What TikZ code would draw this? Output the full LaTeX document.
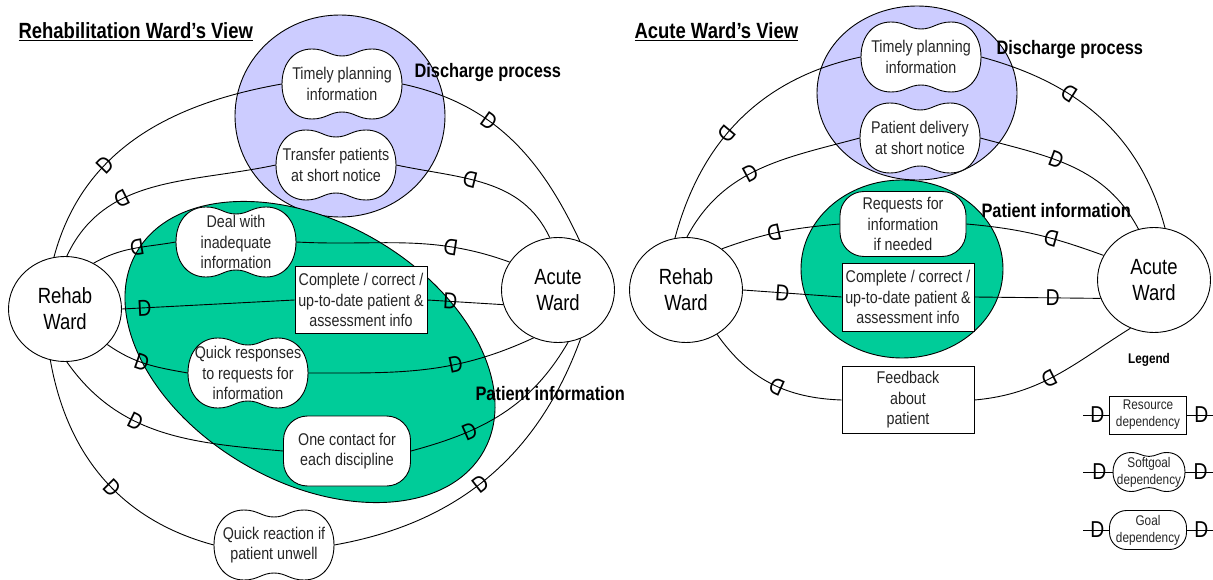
\documentclass[tikz,border=0pt]{standalone}
\usepackage{fontspec}
\setmainfont[FakeStretch=0.84]{Liberation Sans}
\usepackage{tikz}
\usetikzlibrary{shapes.geometric}
\definecolor{proc}{HTML}{CCCCFF}
\definecolor{info}{HTML}{00CC99}
\definecolor{dtxt}{HTML}{262626}
\tikzset{
  actor/.style={draw, fill=white, ellipse, line width=0.9pt, minimum width=113pt, minimum height=105pt, inner sep=0pt, align=center, font=\fontsize{22}{26}\selectfont},
  dtext/.style={inner sep=0pt, align=center, text=dtxt, font=\fontsize{17}{20.5}\selectfont},
  sgtext/.style={dtext, minimum width=120pt, minimum height=70pt},
  goal/.style={dtext, draw, fill=white, line width=0.9pt, rounded corners=24pt, minimum width=127pt, minimum height=70pt},
  res/.style={dtext, draw, fill=white, line width=0.9pt, minimum width=132pt, minimum height=67pt},
  area/.style={draw, line width=0.9pt},
  arealab/.style={anchor=base west, font=\bfseries\fontsize{19.5}{22}\selectfont},
  viewtitle/.style={anchor=base west, font=\bfseries\fontsize{22}{26}\selectfont},
  dep/.style={line width=0.9pt},
  dm/.style={sloped, allow upside down, inner sep=0pt, font=\fontsize{23}{23}\selectfont},
  dmr/.style={dm, rotate=180},
  legtext/.style={inner sep=0pt, align=center, text=dtxt, font=\fontsize{14}{17}\selectfont},
  pics/softgoal/.style={code={
    \draw[fill=white, line width=0.9pt] (-60,0) .. controls (-60,22) and (-47,35) .. (-30,35)
      .. controls (-16,35) and (-12,28) .. (0,28) .. controls (12,28) and (16,35) .. (30,35)
      .. controls (47,35) and (60,22) .. (60,0) .. controls (60,-22) and (47,-35) .. (30,-35)
      .. controls (16,-35) and (12,-28) .. (0,-28) .. controls (-12,-28) and (-16,-35) .. (-30,-35)
      .. controls (-47,-35) and (-60,-22) .. (-60,0) -- cycle;
  }}
}
\begin{document}
\begin{tikzpicture}[x=1pt, y=1pt]
  \useasboundingbox (0,0) rectangle (1213,-580);

  % rehabilitation ward's view
  \draw[area, fill=proc] (340,-116) ellipse [x radius=105pt, y radius=101pt];
  \draw[area, fill=info, rotate around={-30:(310,-352)}] (310,-352) ellipse [x radius=200pt, y radius=130pt];
  \node[viewtitle] (ttlL) at (15,-39) {\underline{Rehabilitation Ward's View}};
  \node[arealab] (dpL) at (411,-78) {Discharge process};
  \node[arealab] (piL) at (472,-400) {Patient information};

  \pic at (342,-84) {softgoal};
  \node[sgtext] (tpL) at (342,-84) {Timely planning\\information};
  \pic at (336,-165) {softgoal};
  \node[sgtext] (trL) at (336,-165) {Transfer patients\\at short notice};
  \pic at (236,-242) {softgoal};
  \node[sgtext] (dlL) at (236,-242) {Deal with\\inadequate\\information};
  \node[res] (cbL) at (361,-300) {Complete / correct /\\up-to-date patient \&\\assessment info};
  \pic at (248,-373) {softgoal};
  \node[sgtext] (qrL) at (248,-373) {Quick responses\\to requests for\\information};
  \node[goal] (ocL) at (347,-451) {One contact for\\each discipline};
  \pic at (274,-545) {softgoal};
  \node[sgtext] (qxL) at (274,-545) {Quick reaction if\\patient unwell};

  \node[actor] (rwL) at (65,-309) {Rehab\\Ward};
  \node[actor] (awL) at (558,-290) {Acute\\Ward};

  \draw[dep] (rwL.102) to[out=75,in=190] node[dm,pos=.35]{D} (tpL.west);
  \draw[dep] (tpL.east) to[out=-12,in=115] node[dm,pos=.38]{D} (awL.66);
  \draw[dep] (rwL.88) to[out=65,in=192] node[dmr,pos=.35]{D} (trL.west);
  \draw[dep] (trL.east) to[out=-12,in=115] node[dmr,pos=.4]{D} (awL.99);
  \draw[dep] (rwL.58) to[out=30,in=190] node[dmr,pos=.55]{D} (dlL.west);
  \draw[dep] (dlL.east) to[out=-3,in=160] node[dmr,pos=.73]{D} (awL.150);
  \draw[dep] (rwL.east) -- node[dm,pos=.13]{D} (cbL.west);
  \draw[dep] (cbL.east) -- node[dm,pos=.3]{D} (awL.195);
  \draw[dep] (rwL.-40) to[out=-35,in=170] node[dm,pos=.45]{D} (qrL.west);
  \draw[dep] (qrL.east) to[out=0,in=205] node[dm,pos=.65]{D} (awL.243);
  \draw[dep] (rwL.-88) to[out=-55,in=175] node[dm,pos=.38]{D} (ocL.west);
  \draw[dep] (ocL.east) to[out=15,in=240] node[dm,pos=.3]{D} (awL.281);
  \draw[dep] (rwL.254) to[out=-80,in=165] node[dm,pos=.55]{D} (qxL.west);
  \draw[dep] (qxL.east) to[out=10,in=250] node[dm,pos=.47]{D} (awL.295);

  % acute ward's view
  \draw[area, fill=proc] (917,-93) ellipse [x radius=100pt, y radius=87pt];
  \draw[area, fill=info] (902,-269) ellipse [x radius=101pt, y radius=89pt];
  \node[viewtitle] (ttlR) at (631,-39) {\underline{Acute Ward's View}};
  \node[arealab] (dpR) at (993,-55) {Discharge process};
  \node[arealab] (piR) at (978,-218) {Patient information};

  \pic at (921,-57) {softgoal};
  \node[sgtext] (tpR) at (921,-57) {Timely planning\\information};
  \pic at (920,-138) {softgoal};
  \node[sgtext] (pdR) at (920,-138) {Patient delivery\\at short notice};
  \node[goal, minimum width=126pt, minimum height=65pt] (rqR) at (903,-224) {Requests for\\information\\if needed};
  \node[res, minimum height=68pt] (cbR) at (908,-297) {Complete / correct /\\up-to-date patient \&\\assessment info};
  \node[res] (fbR) at (908,-400) {Feedback\\about\\patient};

  \node[actor] (rwR) at (686,-290) {Rehab\\Ward};
  \node[actor] (awR) at (1154,-280) {Acute\\Ward};

  \draw[dep] (rwR.102) to[out=75,in=192] node[dmr,pos=.42]{D} (tpR.west);
  \draw[dep] (tpR.east) to[out=-15,in=105] node[dmr,pos=.35]{D} (awR.78);
  \draw[dep] (rwR.89) to[out=62,in=195] node[dm,pos=.45]{D} (pdR.west);
  \draw[dep] (pdR.east) to[out=-15,in=118] node[dm,pos=.4]{D} (awR.107);
  \draw[dep] (rwR.49) to[out=20,in=185] node[dmr,pos=.45]{D} (rqR.west);
  \draw[dep] (rqR.east) to[out=-5,in=160] node[dmr,pos=.62]{D} (awR.154);
  \draw[dep] (rwR.east) -- node[dm,pos=.4]{D} (cbR.west);
  \draw[dep] (cbR.east) -- node[dm,pos=.62]{D} (awR.199);
  \draw[dep] (rwR.-55) to[out=-55,in=178] node[dmr,pos=.55]{D} (fbR.west);
  \draw[dep] (fbR.east) to[out=5,in=212] node[dmr,pos=.45]{D} (awR.244);

  % legend
  \node[anchor=base, font=\bfseries\fontsize{14}{17}\selectfont] (lgd) at (1149,-363) {Legend};
  \node[legtext, draw, fill=white, line width=0.9pt, minimum width=77pt, minimum height=38pt] (lgR) at (1148,-415) {Resource\\dependency};
  \pic[xscale=0.6, yscale=0.557] at (1149,-472) {softgoal};
  \node[legtext, minimum width=72pt, minimum height=39pt] (lgS) at (1149,-472) {Softgoal\\dependency};
  \node[legtext, draw, fill=white, line width=0.9pt, rounded corners=17pt, minimum width=77pt, minimum height=39pt] (lgG) at (1148,-530) {Goal\\dependency};
  \coordinate (lgRa) at (1083,-415);
  \coordinate (lgRb) at (1213,-415);
  \coordinate (lgSa) at (1083,-472);
  \coordinate (lgSb) at (1213,-472);
  \coordinate (lgGa) at (1083,-530);
  \coordinate (lgGb) at (1213,-530);
  \draw[dep] (lgRa) -- node[dm,pos=.55]{D} (lgR.west);
  \draw[dep] (lgR.east) -- node[dm,pos=.55]{D} (lgRb);
  \draw[dep] (lgSa) -- node[dm,pos=.55]{D} (lgS.west);
  \draw[dep] (lgS.east) -- node[dm,pos=.55]{D} (lgSb);
  \draw[dep] (lgGa) -- node[dm,pos=.55]{D} (lgG.west);
  \draw[dep] (lgG.east) -- node[dm,pos=.55]{D} (lgGb);
\end{tikzpicture}
\end{document}
